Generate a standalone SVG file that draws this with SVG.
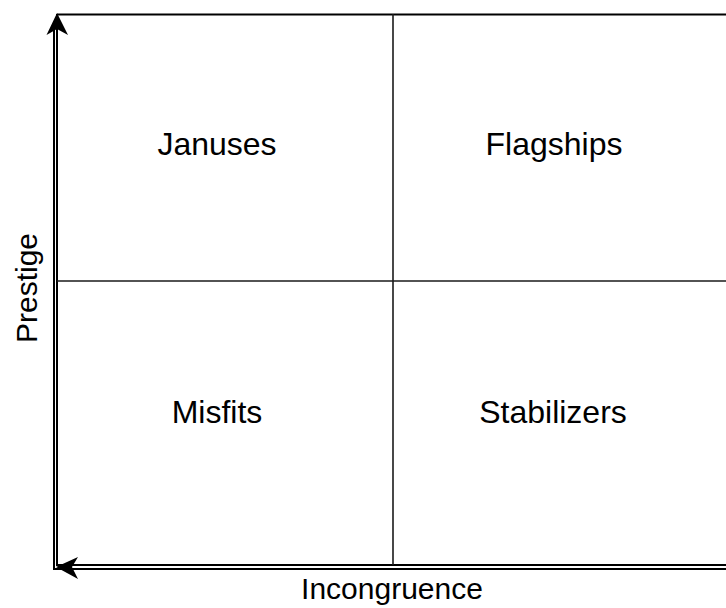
<svg xmlns="http://www.w3.org/2000/svg" width="726" height="608" viewBox="0 0 726 608">
<style>
.ln{stroke:#000;stroke-width:2;fill:none}
.thin{stroke:#1a1a1a;stroke-width:1.6;fill:none}
.q{font-family:"Liberation Sans",Arial,sans-serif;font-size:32px;fill:#000;text-anchor:middle}
.ax{font-family:"Liberation Sans",Arial,sans-serif;font-size:30px;fill:#000;text-anchor:middle}
</style>
<rect width="726" height="608" fill="#fff"/>
<g id="grid">
<line class="ln" x1="57" y1="14.5" x2="726" y2="14.5"/>
<line class="ln" x1="57" y1="14" x2="57" y2="565"/>
<line class="ln" x1="56" y1="565" x2="726" y2="565"/>
<line class="thin" x1="393" y1="14" x2="393" y2="565"/>
<line class="thin" x1="57" y1="281" x2="726" y2="281"/>
</g>
<g id="connectors">
<line class="ln" x1="54" y1="30" x2="54" y2="569.5"/>
<polygon points="57,13 68,35 57,29 46.5,35" fill="#000"/>
<line class="ln" x1="53" y1="569" x2="726" y2="569"/>
<polygon points="56,567 78,557 72,567 78,579" fill="#000"/>
</g>
<g id="januses"><text class="q" x="217" y="155">Januses</text></g>
<g id="flagships"><text class="q" x="554" y="155">Flagships</text></g>
<g id="misfits"><text class="q" x="217" y="423">Misfits</text></g>
<g id="stabilizers"><text class="q" x="553" y="423">Stabilizers</text></g>
<g id="prestige"><text class="ax" transform="translate(37,288) rotate(-90)">Prestige</text></g>
<g id="incongruence"><text class="ax" x="392" y="599">Incongruence</text></g>
</svg>
